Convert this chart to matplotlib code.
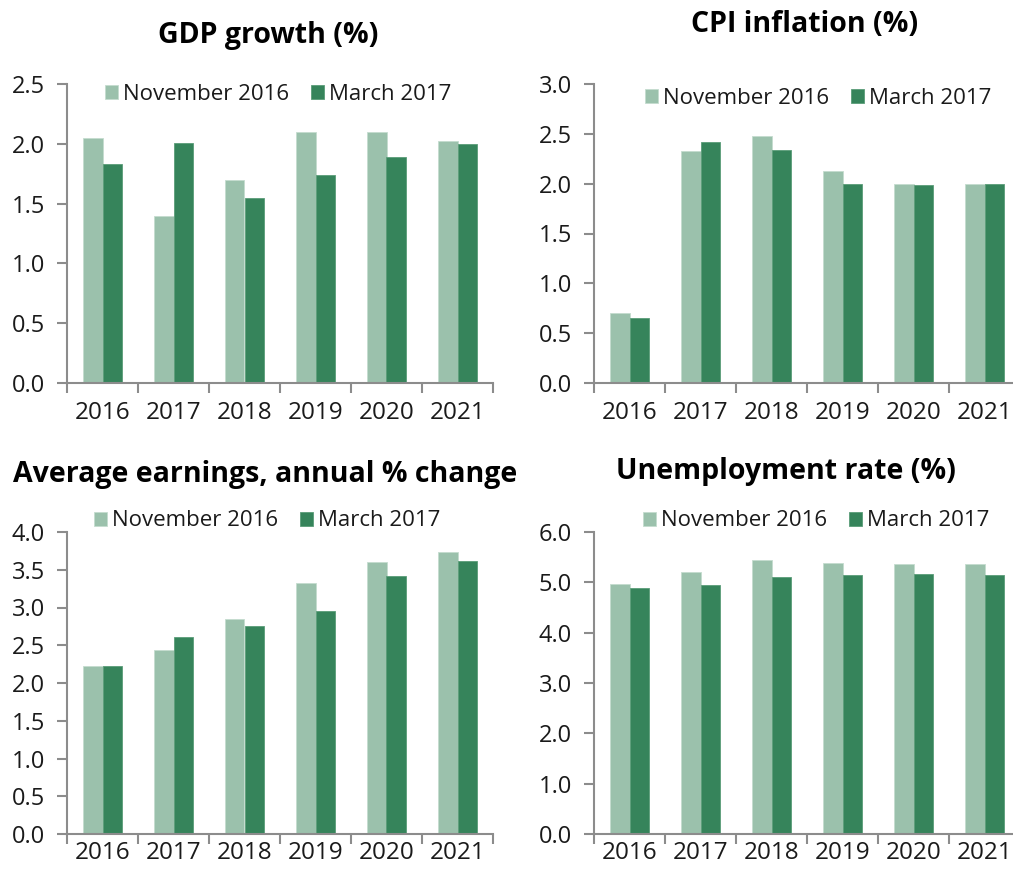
import numpy as np
import matplotlib
matplotlib.use("Agg")
import matplotlib.pyplot as plt
from matplotlib.ticker import FixedLocator, NullFormatter, FixedFormatter

plt.rcParams['font.family'] = ['Open Sans', 'DejaVu Sans']

years = ['2016', '2017', '2018', '2019', '2020', '2021']
series_names = ['November 2016', 'March 2017']

# values
gdp_nov = [2.05, 1.40, 1.70, 2.10, 2.10, 2.02]
gdp_mar = [1.83, 2.01, 1.55, 1.74, 1.89, 2.00]
cpi_nov = [0.70, 2.33, 2.48, 2.13, 2.00, 2.00]
cpi_mar = [0.65, 2.42, 2.34, 2.00, 1.99, 2.00]
earn_nov = [2.23, 2.44, 2.85, 3.33, 3.60, 3.74]
earn_mar = [2.22, 2.61, 2.75, 2.95, 3.42, 3.62]
unemp_nov = [4.96, 5.21, 5.45, 5.39, 5.36, 5.36]
unemp_mar = [4.89, 4.95, 5.10, 5.15, 5.17, 5.14]

titles = ['GDP growth (%)', 'CPI inflation (%)',
          'Average earnings, annual % change', 'Unemployment rate (%)']

light = '#9bc1ac'
dark = '#36845b'
axcol = '#8c8c8c'
txtcol = '#1a1a1a'

W, H = 1013, 873
fig = plt.figure(figsize=(W / 100, H / 100), dpi=100)


def px(x, y):
    return x / W, 1 - y / H


panels = [
    # left, top, bottom (px), data, ymax, step, title pos, legend pos, x label pad
    (67, 84, 383, gdp_nov, gdp_mar, 2.5, 0.5, (268, 35), (113, 94), 13),
    (594, 84, 383, cpi_nov, cpi_mar, 3.0, 0.5, (805, 25), (653, 98), 13),
    (67, 532, 834, earn_nov, earn_mar, 4.0, 0.5, (265, 475), (102, 521), 5),
    (594, 532, 834, unemp_nov, unemp_mar, 6.0, 1.0, (786, 472), (651, 521), 5),
]

x = np.arange(len(years))
bw = 0.28

for i, (l, t, b, nov, mar, ymax, step, tpos, lpos, xpad) in enumerate(panels):
    width_px = 426
    ax = fig.add_axes([l / W, 1 - b / H, width_px / W, (b - t) / H])
    b1 = ax.bar(x - bw / 2, nov, bw, color=light, edgecolor='#c4dccf', linewidth=0.6,
                label=series_names[0])
    b2 = ax.bar(x + bw / 2, mar, bw, color=dark, edgecolor='#5a9c78', linewidth=0.6,
                label=series_names[1])
    ax.set_xlim(-0.5, 5.5)
    ax.set_ylim(0, ymax)
    ax.set_yticks(np.arange(0, ymax + 0.001, step))
    ax.set_yticklabels(['%.1f' % v for v in np.arange(0, ymax + 0.001, step)])
    ax.xaxis.set_major_locator(FixedLocator(np.arange(-0.5, 6, 1)))
    ax.xaxis.set_major_formatter(NullFormatter())
    ax.xaxis.set_minor_locator(FixedLocator(x))
    ax.xaxis.set_minor_formatter(FixedFormatter(years))
    ax.tick_params(axis='x', which='major', length=7, width=1.5, color=axcol)
    ax.tick_params(axis='x', which='minor', length=0, pad=xpad, labelsize=17.5,
                   labelcolor=txtcol)
    ax.tick_params(axis='y', length=7, width=1.5, color=axcol, pad=9,
                   labelsize=17, labelcolor=txtcol)
    for s in ['top', 'right']:
        ax.spines[s].set_visible(False)
    for s in ['left', 'bottom']:
        ax.spines[s].set_color(axcol)
        ax.spines[s].set_linewidth(1.5)

    tx, ty = px(*tpos)
    fig.text(tx, ty, titles[i], ha='center', va='center', fontsize=20.5,
             fontweight='bold', color='black')

    lx, ly = px(*lpos)
    fig.legend(handles=[b1, b2], loc='center left', bbox_to_anchor=(lx - 0.008, ly),
               ncol=2, frameon=False, fontsize=16, handlelength=0.6,
               handleheight=0.6, handletextpad=0.2, columnspacing=1.0,
               borderaxespad=0, borderpad=0, labelcolor=txtcol)

fig.savefig('out.png', dpi=100)
